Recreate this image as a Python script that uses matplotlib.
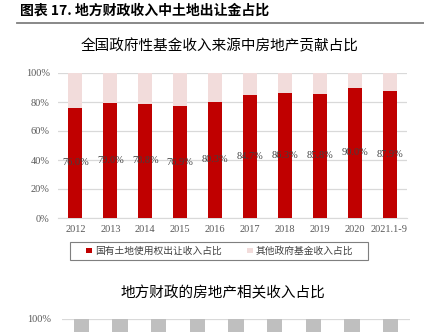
import matplotlib
matplotlib.use("Agg")
import matplotlib.pyplot as plt
from matplotlib.lines import Line2D
from matplotlib.patches import Patch, Rectangle

plt.rcParams['font.family'] = ['Noto Sans CJK SC', 'DejaVu Sans']

# Land-transfer share of government fund revenue
years = ["2012", "2013", "2014", "2015", "2016", "2017", "2018", "2019", "2020", "2021.1-9"]
land_share = [76.0, 79.0, 78.8, 76.9, 80.3, 84.7, 86.3, 85.8, 90.0, 87.9]
other_share = [round(100 - v, 1) for v in land_share]
y_ticks = [0, 20, 40, 60, 80, 100]
y_tick_labels = ["0%", "20%", "40%", "60%", "80%", "100%"]
legend_labels = ["国有土地使用权出让收入占比", "其他政府基金收入占比"]

# Second panel (real-estate related revenue share), top portion
years2 = ["2012", "2013", "2014", "2015", "2016", "2017", "2018", "2019", "2020"]
total2 = [100, 100, 100, 100, 100, 100, 100, 100, 100]

RED = "#C00000"
PINK = "#F2DCDB"
GRID = "#D9D9D9"
TICK = "#595959"
SERIF = "Liberation Serif"

W, H = 424, 332
fig = plt.figure(figsize=(W / 100, H / 100), dpi=100)

def fx(px):
    return px / W

def fy(py):
    return 1 - py / H

# Header
fig.text(fx(20), fy(11), "图表 17. 地方财政收入中土地出让金占比", fontsize=10,
         fontweight="bold", ha="left", va="center", color="#000000")
fig.add_artist(Line2D([fx(17), 1.0], [fy(23), fy(23)], color="#7F7F7F", lw=1.3))

# Panel 1 title
fig.text(fx(220), fy(46), "全国政府性基金收入来源中房地产贡献占比", fontsize=10.5,
         ha="center", va="center", color="#000000")

# Panel 1 axes
left, right, top, bottom = 58, 407, 73, 218
ax = fig.add_axes([fx(left), fy(bottom), fx(right - left), (bottom - top) / H])
x = list(range(len(years)))
ax.bar(x, land_share, width=0.4, color=RED, zorder=3)
ax.bar(x, other_share, width=0.4, bottom=land_share, color=PINK, zorder=3)
for xi, v in zip(x, land_share):
    ax.text(xi, v / 2, f"{v:.1f}%", ha="center", va="center", fontsize=7.5,
            family=SERIF, color="#404040", zorder=4)
ax.set_xlim(-0.5, len(years) - 0.5)
ax.set_ylim(0, 100)
ax.set_yticks(y_ticks)
ax.set_yticklabels(y_tick_labels, family=SERIF, fontsize=7.5, color=TICK)
ax.set_xticks(x)
ax.set_xticklabels(years, family=SERIF, fontsize=7.5, color=TICK)
ax.tick_params(length=0, pad=6)
ax.tick_params(axis="x", pad=5)
ax.yaxis.grid(True, color=GRID, lw=0.9, zorder=0)
for s in ["left", "right", "top"]:
    ax.spines[s].set_visible(False)
ax.spines["bottom"].set_color(GRID)

# Legend with a plain rectangular frame
fig.add_artist(Rectangle((fx(70), fy(260)), fx(368 - 70), (260 - 242) / H,
                         transform=fig.transFigure, facecolor="white",
                         edgecolor="#7F7F7F", lw=0.8))
handles = [Patch(facecolor=RED, edgecolor="none"), Patch(facecolor=PINK, edgecolor="none")]
leg = fig.legend(handles, legend_labels, loc="center", bbox_to_anchor=(fx(220), fy(251)),
                 ncol=2, fontsize=7, frameon=False, handlelength=0.55,
                 handleheight=0.55, handletextpad=0.35, columnspacing=2.6,
                 borderpad=0.2)
for t in leg.get_texts():
    t.set_color("#404040")

# Panel 2 title
fig.text(fx(223), fy(293), "地方财政的房地产相关收入占比", fontsize=10.5,
         ha="center", va="center", color="#000000")

# Panel 2 axes (extends below the visible area)
left2, right2, top2 = 62, 410, 319
h2 = 145
ax2 = fig.add_axes([fx(left2), fy(top2 + h2), fx(right2 - left2), h2 / H])
x2 = list(range(len(years2)))
ax2.bar(x2, total2, width=0.4, color="#BFBFBF", zorder=3)
ax2.set_xlim(-0.5, len(years2) - 0.5)
ax2.set_ylim(0, 100)
ax2.set_yticks([100])
ax2.set_yticklabels(["100%"], family=SERIF, fontsize=7.5, color=TICK)
ax2.set_xticks([])
ax2.tick_params(length=0, pad=8)
ax2.yaxis.grid(True, color=GRID, lw=0.9, zorder=0)
for s in ["left", "right", "top", "bottom"]:
    ax2.spines[s].set_visible(False)

fig.savefig("out.png", dpi=100)
